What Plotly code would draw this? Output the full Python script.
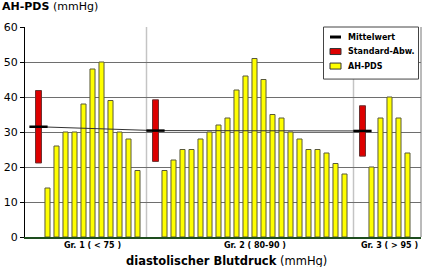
import plotly.graph_objects as go

# ---- data ----
group_labels = ["Gr. 1 ( < 75 )", "Gr. 2 ( 80-90 )", "Gr. 3 ( > 95 )"]
group1 = [14, 26, 30, 30, 38, 48, 50, 39, 30, 28, 19]
group2 = [19, 22, 25, 25, 28, 30, 32, 34, 42, 46, 51, 45, 35, 34, 30, 28, 25, 25, 24, 21, 18]
group3 = [20, 34, 40, 34, 24]
means = [31.5, 30.4, 30.3]
sds = [10.35, 8.8, 7.2]
y_ticks = [0, 10, 20, 30, 40, 50, 60]
series_names = ["Mittelwert", "Standard-Abw.", "AH-PDS"]

groups = [group1, group2, group3]

# ---- positions on a slot axis ----
bar_x, bar_y, sd_x, sep_x, label_x = [], [], [], [], []
pos = 1
for gi, g in enumerate(groups):
    sd_x.append(pos)
    xs = [pos + 1 + i for i in range(len(g))]
    bar_x += xs
    bar_y += g
    label_x.append((xs[0] + xs[-1]) / 2)
    pos = xs[-1] + 1
    if gi < len(groups) - 1:
        sep_x.append(pos)
        pos += 1
x_max = pos  # trailing empty slot

sd_base = [m - s for m, s in zip(means, sds)]
sd_len = [2 * s for s in sds]

YELLOW, RED = "#FFFF00", "#DD0000"

fig = go.Figure()
fig.add_trace(go.Bar(
    x=bar_x, y=bar_y, width=0.56, name=series_names[2], showlegend=False,
    marker=dict(color=YELLOW, line=dict(color="#5a5a3a", width=1)),
))
fig.add_trace(go.Bar(
    x=sd_x, y=sd_len, base=sd_base, width=0.66, name=series_names[1], showlegend=False,
    marker=dict(color=RED, line=dict(color="#6a3030", width=1)),
))
fig.add_trace(go.Scatter(
    x=sd_x, y=means, mode="lines", showlegend=False,
    line=dict(color="#333333", width=1), hoverinfo="skip",
))
fig.add_trace(go.Scatter(
    x=sd_x, y=means, mode="markers", name=series_names[0], showlegend=False,
    marker=dict(symbol="line-ew", size=13, line=dict(color="black", width=2.5)),
))

# pixel -> paper helpers (plot area 25..421 x, 27..236.7 y)
L, R, T, B = 25, 421, 27, 236.7
def px(x):
    return (x - L) / (R - L)
def py(y):
    return (B - y) / (B - T)

shapes = []
for sx in sep_x:
    shapes.append(dict(type="line", xref="x", yref="y", x0=sx, x1=sx, y0=0, y1=60,
                       line=dict(color="#c4c4c4", width=1.5), layer="below"))
shapes.append(dict(type="line", xref="paper", yref="paper", x0=1, x1=1, y0=0, y1=1,
                   line=dict(color="#777777", width=1)))

# manual legend
shapes.append(dict(type="rect", xref="paper", yref="paper", x0=px(323.5), x1=px(418.5),
                   y0=py(79), y1=py(27), fillcolor="white", line=dict(color="#444444", width=1)))
row_y = [37, 51.5, 66]
shapes.append(dict(type="line", xref="paper", yref="paper", x0=px(330), x1=px(341),
                   y0=py(row_y[0]), y1=py(row_y[0]), line=dict(color="black", width=3)))
for ry, col in zip(row_y[1:], [RED, YELLOW]):
    shapes.append(dict(type="rect", xref="paper", yref="paper", x0=px(330), x1=px(341),
                       y0=py(ry + 3), y1=py(ry - 3), fillcolor=col,
                       line=dict(color="#333333", width=1)))

annotations = [
    dict(text="<b>AH-PDS</b> (mmHg)", xref="paper", yref="paper", x=px(0), y=py(7),
         xanchor="left", yanchor="middle", showarrow=False,
         font=dict(size=11, color="black", family="DejaVu Sans")),
    dict(text="<b>diastolischer Blutdruck</b> (mmHg)", xref="paper", yref="paper",
         x=px(226), y=py(260.5), xanchor="center", yanchor="middle", showarrow=False,
         font=dict(size=11.5, color="black", family="DejaVu Sans")),
]
for ry, name in zip(row_y, series_names):
    annotations.append(dict(text="<b>" + name + "</b>", xref="paper", yref="paper",
                            x=px(346), y=py(ry), xanchor="left", yanchor="middle",
                            showarrow=False,
                            font=dict(size=8, color="black", family="DejaVu Sans")))
for lx, lab in zip(label_x, group_labels):
    annotations.append(dict(text="<b>" + lab + "</b>", xref="x", yref="paper", x=lx, y=py(245.5),
                            xanchor="center", yanchor="middle", showarrow=False,
                            font=dict(size=8, color="black", family="DejaVu Sans")))

fig.update_layout(
    width=422, height=267,
    margin=dict(l=25, r=1, t=27, b=30),
    paper_bgcolor="white", plot_bgcolor="white",
    barmode="overlay",
    showlegend=False,
    xaxis=dict(range=[-0.5, x_max + 0.5], showticklabels=False, ticks="",
               showgrid=False, zeroline=False, showline=True,
               linecolor="#1e4d1e", linewidth=1.5),
    yaxis=dict(range=[0, 60], tickvals=y_ticks, ticks="outside", ticklen=4,
               tickcolor="black", showline=True, linecolor="black", linewidth=1,
               showgrid=True, gridcolor="#6e6e6e", gridwidth=1, zeroline=False,
               tickfont=dict(size=11, color="black", family="DejaVu Sans"),
               tickprefix="<b>", ticksuffix="</b>"),
    shapes=shapes,
    annotations=annotations,
    font=dict(family="DejaVu Sans"),
)

fig.write_html("out.html")
